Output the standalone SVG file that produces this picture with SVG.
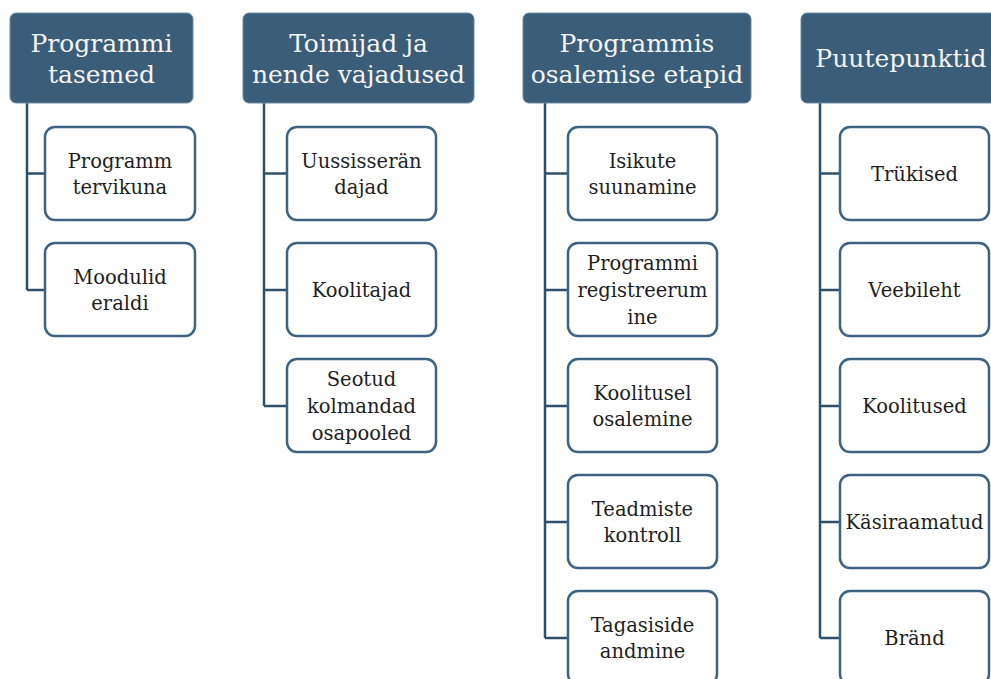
<svg xmlns="http://www.w3.org/2000/svg" width="991" height="679" viewBox="0 0 991 679">
<style>
.hdr{fill:#3a5d79;stroke:#6d8ba3;stroke-width:1}
.ht{font-family:"DejaVu Serif","Liberation Serif",serif;font-size:25px;fill:#f4f4f4;text-anchor:middle}
.box{fill:#fff;stroke:#3d6282;stroke-width:2.5}
.bt{font-family:"DejaVu Serif","Liberation Serif",serif;font-size:19.5px;fill:#1e1e1e;text-anchor:middle}
.con{fill:none;stroke:#2f506b;stroke-width:2.5}
</style>
<rect width="991" height="679" fill="#fff"/>
<g id="connectors">
<path class="con" d="M27,103V290M27,173.5H45M27,290H45"/>
<path class="con" d="M264,103V406M264,173.5H287M264,290H287M264,406H287"/>
<path class="con" d="M545,103V638M545,173.5H568M545,290H568M545,406H568M545,522H568M545,638H568"/>
<path class="con" d="M820,103V638M820,173.5H840M820,290H840M820,406H840M820,522H840M820,638H840"/>
</g>
<g id="h1"><rect class="hdr" x="10" y="13" width="183" height="90" rx="6"/><text class="ht" x="101.5" y="52">Programmi</text><text class="ht" x="101.5" y="83">tasemed</text></g>
<g id="h2"><rect class="hdr" x="243" y="13" width="231" height="90" rx="6"/><text class="ht" x="358.5" y="52">Toimijad ja</text><text class="ht" x="358.5" y="83">nende vajadused</text></g>
<g id="h3"><rect class="hdr" x="523" y="13" width="228" height="90" rx="6"/><text class="ht" x="637" y="52">Programmis</text><text class="ht" x="637" y="83">osalemise etapid</text></g>
<g id="h4"><rect class="hdr" x="801" y="13" width="200" height="90" rx="6"/><text class="ht" x="901" y="67">Puutepunktid</text></g>

<g id="c1b1"><rect class="box" x="45" y="127" width="150" height="93" rx="10"/><text class="bt" x="120" y="168">Programm</text><text class="bt" x="120" y="194">tervikuna</text></g>
<g id="c1b2"><rect class="box" x="45" y="243" width="150" height="93" rx="10"/><text class="bt" x="120" y="284">Moodulid</text><text class="bt" x="120" y="310">eraldi</text></g>

<g id="c2b1"><rect class="box" x="287" y="127" width="149" height="93" rx="10"/><text class="bt" x="361.5" y="168">Uussisserän</text><text class="bt" x="361.5" y="194">dajad</text></g>
<g id="c2b2"><rect class="box" x="287" y="243" width="149" height="93" rx="10"/><text class="bt" x="361.5" y="297">Koolitajad</text></g>
<g id="c2b3"><rect class="box" x="287" y="359" width="149" height="93" rx="10"/><text class="bt" x="361.5" y="386">Seotud</text><text class="bt" x="361.5" y="413">kolmandad</text><text class="bt" x="361.5" y="440">osapooled</text></g>

<g id="c3b1"><rect class="box" x="568" y="127" width="149" height="93" rx="10"/><text class="bt" x="642.5" y="168">Isikute</text><text class="bt" x="642.5" y="194">suunamine</text></g>
<g id="c3b2"><rect class="box" x="568" y="243" width="149" height="93" rx="10"/><text class="bt" x="642.5" y="270">Programmi</text><text class="bt" x="642.5" y="297">registreerum</text><text class="bt" x="642.5" y="324">ine</text></g>
<g id="c3b3"><rect class="box" x="568" y="359" width="149" height="93" rx="10"/><text class="bt" x="642.5" y="400">Koolitusel</text><text class="bt" x="642.5" y="426">osalemine</text></g>
<g id="c3b4"><rect class="box" x="568" y="475" width="149" height="93" rx="10"/><text class="bt" x="642.5" y="516">Teadmiste</text><text class="bt" x="642.5" y="542">kontroll</text></g>
<g id="c3b5"><rect class="box" x="568" y="591" width="149" height="93" rx="10"/><text class="bt" x="642.5" y="632">Tagasiside</text><text class="bt" x="642.5" y="658">andmine</text></g>

<g id="c4b1"><rect class="box" x="840" y="127" width="149" height="93" rx="10"/><text class="bt" x="914.5" y="181">Trükised</text></g>
<g id="c4b2"><rect class="box" x="840" y="243" width="149" height="93" rx="10"/><text class="bt" x="914.5" y="297">Veebileht</text></g>
<g id="c4b3"><rect class="box" x="840" y="359" width="149" height="93" rx="10"/><text class="bt" x="914.5" y="413">Koolitused</text></g>
<g id="c4b4"><rect class="box" x="840" y="475" width="149" height="93" rx="10"/><text class="bt" x="914.5" y="529">Käsiraamatud</text></g>
<g id="c4b5"><rect class="box" x="840" y="591" width="149" height="93" rx="10"/><text class="bt" x="914.5" y="645">Bränd</text></g>
</svg>
